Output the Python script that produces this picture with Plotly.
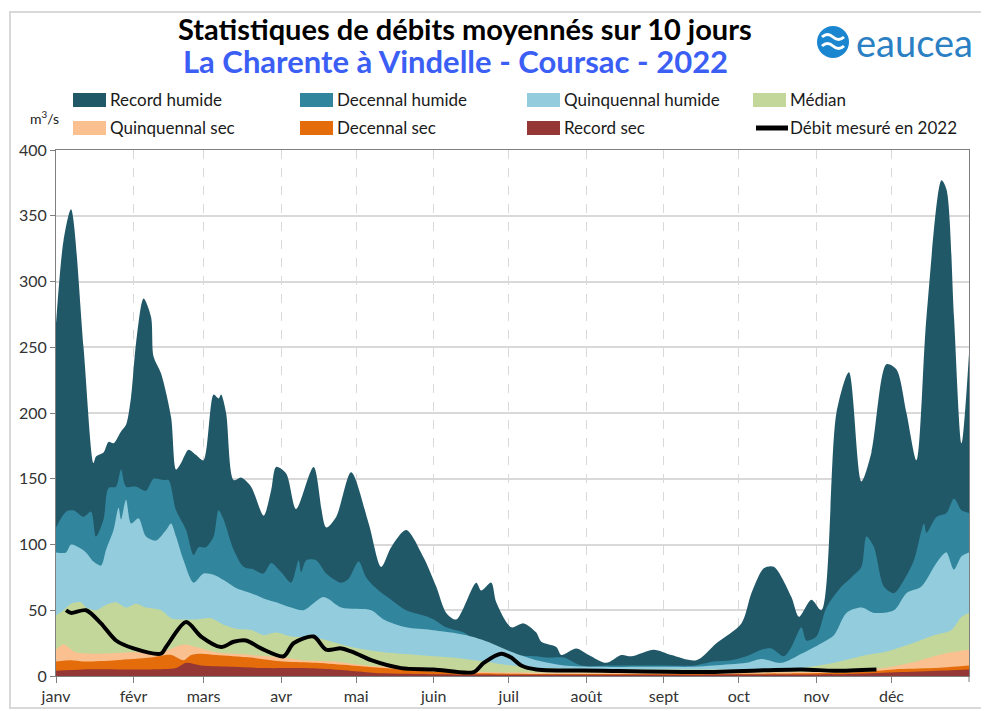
import pandas as pd
import plotly.graph_objects as go

# --- data (day of year -> m3/s) ---
rec_hum_days = [0, 3, 6, 11, 15, 16, 19, 21, 23, 26, 28, 30, 32, 35, 38, 39, 42, 46, 48, 50, 53, 56, 59,
                63, 65, 66, 68, 71, 74, 78, 83, 86, 88, 92, 96, 103, 108, 112, 118, 125, 130, 134, 140,
                147, 152, 156, 160, 168, 170, 174, 176, 182, 187, 192, 194, 200, 202, 208, 213, 220, 226,
                230, 239, 246, 256, 264, 274, 278, 283, 287, 294, 297, 302, 306, 312, 317, 322, 326, 332,
                336, 340, 344, 348, 354, 356, 359, 362, 365]
rec_hum = [268, 331, 355, 250, 162, 167, 170, 178, 177, 186, 191, 212, 253, 287, 273, 243, 230, 197, 157,
           162, 172, 168, 164, 214, 211, 214, 200, 149, 151, 144, 122, 141, 159, 154, 127, 159, 113, 121,
           155, 116, 83, 98, 111, 90, 68, 48, 43, 71, 65, 71, 56, 37, 40, 33, 26, 22, 16, 21, 16, 10, 16,
           15, 20, 16, 12, 25, 40, 63, 82, 83, 60, 45, 58, 50, 200, 231, 148, 170, 237, 233, 200, 164,
           273, 377, 370, 273, 177, 245]

dec_hum_days = [0, 4, 7, 11, 14, 16, 19, 21, 24, 26, 28, 32, 36, 39, 43, 45, 48, 52, 55, 57, 60, 63, 65,
                67, 71, 75, 79, 83, 86, 90, 94, 97, 98, 100, 104, 108, 114, 117, 121, 124, 129, 134, 140,
                147, 151, 156, 163, 168, 174, 179, 184, 192, 196, 203, 210, 223, 243, 255, 263, 270, 276,
                282, 286, 291, 294, 298, 300, 304, 308, 314, 318, 322, 324, 327, 331, 335, 339, 343, 347,
                348, 352, 356, 359, 362, 365]
dec_hum = [113, 125, 126, 121, 125, 106, 119, 143, 144, 157, 144, 144, 141, 150, 149, 149, 126, 111, 92,
           98, 98, 106, 126, 119, 96, 83, 81, 78, 86, 79, 71, 88, 79, 88, 88, 78, 71, 74, 87, 75, 65, 58,
           50, 46, 43, 37, 33, 27, 24, 20, 16, 15, 14, 14, 8, 8, 8, 8, 11, 12, 15, 20, 21, 15, 22, 37, 27,
           30, 52, 68, 75, 83, 106, 98, 68, 63, 73, 88, 116, 109, 121, 124, 135, 126, 124]

quin_hum_days = [0, 4, 6, 9, 12, 15, 18, 20, 23, 25, 26, 28, 30, 33, 36, 40, 44, 46, 48, 51, 55, 59, 63,
                 67, 72, 78, 83, 88, 94, 99, 107, 114, 126, 131, 140, 150, 158, 166, 174, 180, 187, 192,
                 203, 216, 243, 255, 263, 276, 282, 290, 298, 306, 311, 316, 322, 327, 335, 340, 346, 351,
                 354, 356, 359, 362, 365]
quin_hum = [94, 94, 100, 98, 94, 87, 84, 96, 111, 128, 119, 134, 116, 120, 106, 103, 111, 116, 106, 88, 71,
            78, 77, 73, 67, 63, 59, 56, 52, 50, 60, 52, 50, 43, 37, 35, 33, 30, 25, 20, 15, 12, 8, 7, 7, 7,
            8, 10, 13, 10, 17, 25, 31, 48, 52, 48, 50, 63, 68, 83, 91, 94, 81, 91, 94]

median_days = [0, 3, 6, 10, 12, 16, 20, 24, 28, 32, 36, 42, 46, 51, 56, 62, 67, 72, 78, 83, 88, 94, 104,
               118, 131, 144, 158, 171, 182, 194, 218, 258, 290, 298, 311, 324, 331, 338, 344, 351, 358,
               362, 365]
median = [46, 50, 55, 56, 52, 50, 54, 56, 52, 55, 52, 50, 44, 43, 43, 44, 39, 36, 35, 31, 33, 30, 29, 22,
          18, 16, 14, 11, 8, 6, 5, 5, 5, 6, 10, 16, 18, 22, 26, 31, 35, 45, 48]

quin_sec_days = [0, 3, 8, 18, 31, 42, 51, 56, 64, 78, 91, 98, 111, 124, 144, 171, 194, 238, 298, 318, 331,
                 344, 351, 358, 365]
quin_sec = [20, 24, 18, 17, 18, 18, 24, 22, 18, 16, 14, 12, 11, 8, 6, 3, 2.5, 2.5, 3, 4, 6, 11, 15, 18, 20]

dec_sec_days = [0, 6, 11, 24, 38, 46, 51, 54, 58, 64, 78, 91, 104, 118, 131, 144, 171, 218, 298, 322, 335,
                351, 365]
dec_sec = [11, 12, 11, 12, 14, 16, 12, 16, 17, 16, 14, 11, 10, 8, 6, 4, 2, 1.5, 2, 3, 5, 6, 8]

rec_sec_days = [0, 11, 24, 38, 48, 52, 58, 71, 84, 98, 111, 131, 144, 178, 258, 318, 338, 365]
rec_sec = [4, 5, 5, 5, 6, 10, 8, 7, 6, 6, 5, 2, 1.5, 1, 1, 1.5, 3, 5]

mesure_days = [4, 6, 12, 18, 24, 31, 42, 44, 52, 58, 66, 71, 76, 82, 91, 95, 103, 108, 114, 119, 126,
               138, 151, 167, 171, 178, 182, 186, 192, 218, 258, 298, 311, 328]
mesure = [50, 48, 50, 40, 27, 21, 17, 22, 41, 30, 22, 26, 27, 21, 15, 25, 30, 20, 21, 18, 12, 6, 5, 3, 10,
          17, 14, 8, 5, 4, 3, 5, 4, 5]

month_starts = pd.date_range("2022-01-01", "2022-12-01", freq="MS")
month_labels = ["janv", "févr", "mars", "avr", "mai", "juin", "juil", "août", "sept", "oct", "nov", "déc"]

series = [
    ("Record humide", rec_hum_days, rec_hum, "#215868"),
    ("Decennal humide", dec_hum_days, dec_hum, "#31859c"),
    ("Quinquennal humide", quin_hum_days, quin_hum, "#93cddd"),
    ("Médian", median_days, median, "#c4d79b"),
    ("Quinquennal sec", quin_sec_days, quin_sec, "#fac090"),
    ("Decennal sec", dec_sec_days, dec_sec, "#e46c0a"),
    ("Record sec", rec_sec_days, rec_sec, "#953735"),
]

base = pd.Timestamp("2022-01-01")


def to_dates(days):
    return base + pd.to_timedelta(days, unit="D")


# screen-pixel helpers for decoration placement (plot area on screen: x 56-969, y 150-676)
def px(x):
    return (x - 56) / 913


def py(y):
    return (676 - y) / 526


FONT = "Lato"

fig = go.Figure()
for name, days, vals, color in series:
    fig.add_trace(go.Scatter(x=to_dates(days), y=vals, name=name, mode="lines",
                             line=dict(width=0, color=color, shape="spline", smoothing=0.8),
                             fill="tozeroy", fillcolor=color, showlegend=False))

fig.add_trace(go.Scatter(x=to_dates(mesure_days), y=mesure, name="Débit mesuré en 2022", mode="lines",
                         line=dict(width=4, color="black", shape="spline", smoothing=0.8),
                         showlegend=False))

# hand-made legend (wide rectangular swatches)
cols = [73, 300, 527, 753]
rows = [100, 128]
shapes = []
annotations = []
legend_items = [(n, c) for n, _, _, c in series] + [("Débit mesuré en 2022", None)]
for i, (name, color) in enumerate(legend_items):
    x0 = cols[i % 4]
    yc = rows[i // 4]
    if color:
        shapes.append(dict(type="rect", xref="paper", yref="paper", x0=px(x0), x1=px(x0 + 33),
                           y0=py(yc + 7), y1=py(yc - 7), fillcolor=color, line=dict(width=0)))
    else:
        shapes.append(dict(type="line", xref="paper", yref="paper", x0=px(x0 + 3), x1=px(x0 + 35),
                           y0=py(yc), y1=py(yc), line=dict(color="black", width=5)))
    annotations.append(dict(text=name, xref="paper", yref="paper", x=px(x0 + 35), y=py(yc),
                            xanchor="left", yanchor="middle", showarrow=False,
                            font=dict(family=FONT, size=17, color="#1a1a1a")))

# outer frame
shapes.append(dict(type="rect", xref="paper", yref="paper", x0=px(10), x1=px(982), y0=py(708), y1=py(12),
                   line=dict(color="#d9d9d9", width=2), layer="below"))
# end-of-year tick mark on the x axis
shapes.append(dict(type="line", xref="paper", yref="paper", x0=1, x1=1, y0=py(676), y1=py(682),
                   line=dict(color="#7f7f7f", width=1)))

# logo: blue disc with two white waves
shapes.append(dict(type="circle", xref="paper", yref="paper", x0=px(817), x1=px(849), y0=py(58), y1=py(26),
                   fillcolor="#1a86d0", line=dict(width=0)))
for yw in (37, 46):
    wave = (f"M {px(822)},{py(yw)} Q {px(827.5)},{py(yw - 5)} {px(833)},{py(yw)} "
            f"T {px(844)},{py(yw)}")
    shapes.append(dict(type="path", xref="paper", yref="paper", path=wave,
                       line=dict(color="white", width=3)))

annotations += [
    dict(text="eaucea", xref="paper", yref="paper", x=px(854), y=py(42), xanchor="left", yanchor="middle",
         showarrow=False, font=dict(family=FONT, size=38, color="#2b7fc3")),
    dict(text="<b>Statistiques de débits moyennés sur 10 jours</b>", xref="paper", yref="paper",
         x=px(465), y=py(29), yanchor="middle", showarrow=False,
         font=dict(family=FONT, size=29, color="black")),
    dict(text="<b>La Charente à Vindelle - Coursac - 2022</b>", xref="paper", yref="paper",
         x=px(455), y=py(61), yanchor="middle", showarrow=False,
         font=dict(family=FONT, size=31, color="#3b5ef5")),
    dict(text="m<sup>3</sup>/s", xref="paper", yref="paper", x=px(28), y=py(118), xanchor="left",
         yanchor="middle", showarrow=False, font=dict(family=FONT, size=14, color="#1a1a1a")),
]

# the page body adds an 8px offset, so the figure is 8px smaller than the window
fig.update_layout(
    width=981, height=703,
    margin=dict(l=48, r=20, t=142, b=35),
    paper_bgcolor="white", plot_bgcolor="white",
    shapes=shapes, annotations=annotations,
    font=dict(family=FONT, size=15, color="#333333"),
)
fig.update_xaxes(type="date", range=["2022-01-01", "2023-01-01"], tickvals=month_starts,
                 ticktext=month_labels, showgrid=True, gridcolor="#d9d9d9", griddash="dash", gridwidth=1,
                 ticks="outside", ticklen=6, tickcolor="#7f7f7f", showline=True, linecolor="#7f7f7f",
                 mirror=True, automargin=False, tickfont=dict(family=FONT, size=16, color="#333333"))
fig.update_yaxes(range=[0, 400], dtick=50, showgrid=True, gridcolor="#d9d9d9", gridwidth=1.5,
                 ticks="outside", ticklen=5, tickcolor="#7f7f7f", showline=True, linecolor="#7f7f7f",
                 mirror=True, zeroline=False, automargin=False,
                 tickfont=dict(family=FONT, size=16, color="#333333"))

fig.write_html("out.html")
